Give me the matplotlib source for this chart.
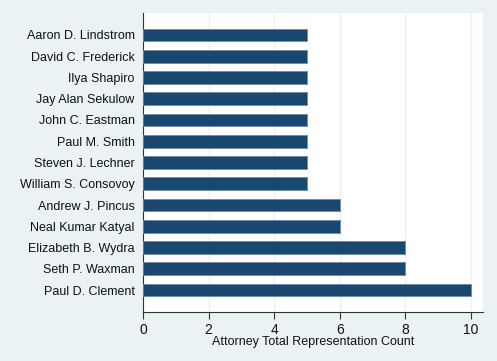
import numpy as np
import matplotlib.pyplot as plt

plt.rcParams['font.family'] = ['Liberation Sans', 'DejaVu Sans']

# top to bottom as in the picture
names = ['Aaron D. Lindstrom', 'David C. Frederick', 'Ilya Shapiro',
         'Jay Alan Sekulow', 'John C. Eastman', 'Paul M. Smith',
         'Steven J. Lechner', 'William S. Consovoy', 'Andrew J. Pincus',
         'Neal Kumar Katyal', 'Elizabeth B. Wydra', 'Seth P. Waxman',
         'Paul D. Clement']
counts = [5, 5, 5, 5, 5, 5, 5, 5, 6, 6, 8, 8, 10]
xticks = [0, 2, 4, 6, 8, 10]

bg = '#eaf2f3'
bar_color = '#1a476f'

fig = plt.figure(figsize=(4.97, 3.61), dpi=100, facecolor=bg)
ax = fig.add_axes([143 / 497, 1 - 312 / 361, 340 / 497, 299 / 361])
ax.set_facecolor('white')

y = np.arange(len(names))[::-1]
ax.barh(y, counts, height=0.6, color=bar_color, edgecolor='#6f8ca6',
        linewidth=0.6, zorder=3)

ax.set_xlim(0, 10.37)
ax.set_ylim(-1.03, len(names) - 1 + 1.03)
ax.set_yticks(y)
ax.set_yticklabels(names, fontsize=9, color='#111111')
ax.set_xticks(xticks)
ax.set_xticklabels([str(t) for t in xticks], fontsize=10, color='#111111')
ax.tick_params(axis='y', length=0, pad=6)
ax.tick_params(axis='x', length=5, width=0.8, color='#333333', pad=3)

ax.grid(axis='x', color=bg, linewidth=1.0, zorder=0)
for side in ['top', 'right']:
    ax.spines[side].set_visible(False)
for side in ['left', 'bottom']:
    ax.spines[side].set_color('#333333')
    ax.spines[side].set_linewidth(0.8)

ax.set_xlabel('Attorney Total Representation Count', fontsize=9,
              color='#111111', labelpad=-1)

fig.savefig('out.png', dpi=100, facecolor=bg)
